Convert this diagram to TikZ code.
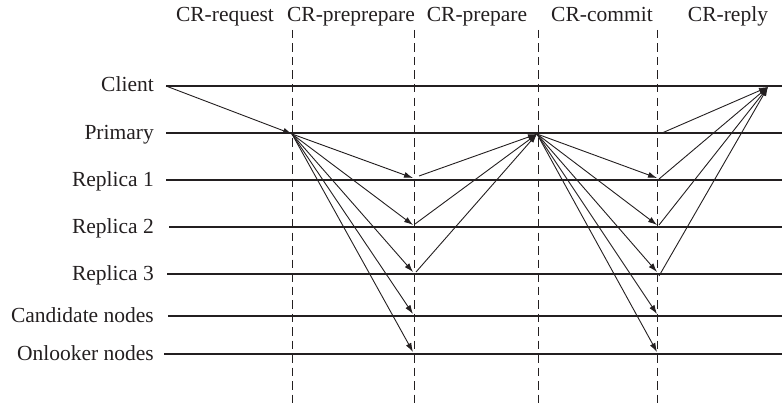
\documentclass[tikz,border=0pt]{standalone}
\usepackage{fontspec}
\setmainfont{Liberation Serif}
\usetikzlibrary{arrows.meta}
\definecolor{ink}{HTML}{231F20}
\begin{document}
\begin{tikzpicture}[x=1pt,y=-1pt, color=ink,
  lane/.style={line width=1.2pt},
  phase/.style={dash pattern=on 8.5pt off 5pt, line width=1pt},
  msg/.style={line width=0.9pt, -{Latex[length=9pt,width=6pt]}},
  lbl/.style={anchor=base east, inner sep=0pt, font=\fontsize{21.5}{25}\selectfont},
  hdr/.style={anchor=base, inner sep=0pt, font=\fontsize{21.5}{25}\selectfont}]
\useasboundingbox (0,0) rectangle (782,404);

% phase separators
\foreach \n/\x in {pa/292, pb/414, pc/538, pd/657}{
  \coordinate (\n-top) at (\x,30);
  \coordinate (\n-bot) at (\x,404);
  \draw[phase] (\n-top) -- (\n-bot);
}

% phase headings
\node[hdr] (h-request)    at (225,22) {CR-request};
\node[hdr] (h-preprepare) at (351,22) {CR-preprepare};
\node[hdr] (h-prepare)    at (477,22) {CR-prepare};
\node[hdr] (h-commit)     at (602,22) {CR-commit};
\node[hdr] (h-reply)      at (728,22) {CR-reply};

% participant time lines
\foreach \n/\y/\s/\t in {client/86/166/Client, primary/133/166/Primary,
    rone/180/166/Replica 1, rtwo/227/169/Replica 2, rthree/274/167/Replica 3,
    cand/316/168/Candidate nodes, onl/354/164/Onlooker nodes}{
  \node[lbl] (\n-lbl) at (154,\y+6) {\t};
  \coordinate (\n-s) at (\s,\y);
  \coordinate (\n-e) at (782,\y);
  \draw[lane] (\n-s) -- (\n-e);
}

% message end points
\coordinate (req)   at (292,134);
\coordinate (pp1)   at (413,178);
\coordinate (pp2)   at (413,225);
\coordinate (pp3)   at (413,272);
\coordinate (pp4)   at (413,314);
\coordinate (pp5)   at (413,352);
\coordinate (pr1)   at (419,176);
\coordinate (pr2)   at (415,224);
\coordinate (pr3)   at (416,272);
\coordinate (prim)  at (537,134);
\coordinate (cm1)   at (657,178);
\coordinate (cm2)   at (657,225);
\coordinate (cm3)   at (657,272);
\coordinate (cm4)   at (657,314);
\coordinate (cm5)   at (657,352);
\coordinate (rp0)   at (662,133);
\coordinate (rp1)   at (659,179);
\coordinate (rp2)   at (659,225);
\coordinate (rp3)   at (659,276);
\coordinate (reply) at (768,87);

% request
\draw[msg] (client-s) -- (req);
% pre-prepare
\foreach \t in {pp1,pp2,pp3,pp4,pp5} \draw[msg] (req) -- (\t);
% prepare
\foreach \s in {pr1,pr2,pr3} \draw[msg] (\s) -- (prim);
% commit
\foreach \t in {cm1,cm2,cm3,cm4,cm5} \draw[msg] (prim) -- (\t);
% reply
\foreach \s in {rp0,rp1,rp2,rp3} \draw[msg] (\s) -- (reply);
\end{tikzpicture}
\end{document}
